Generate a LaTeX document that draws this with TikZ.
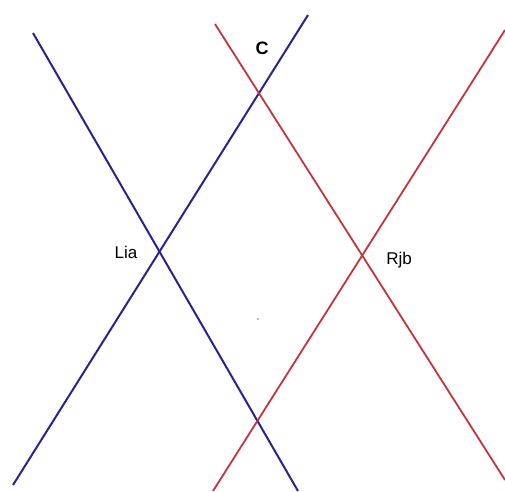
\documentclass[tikz,border=0pt]{standalone}
\usepackage{fontspec}
\setmainfont{Liberation Sans}
\definecolor{lineblue}{RGB}{40,36,140}
\definecolor{linered}{RGB}{196,52,62}
\begin{document}
\begin{tikzpicture}[x=1pt,y=-1pt,
  blueline/.style={draw=lineblue,line width=2pt},
  redline/.style={draw=linered,line width=1.8pt},
  lbl/.style={inner sep=0pt,font=\fontsize{17}{19}\selectfont}]
\useasboundingbox[fill=white] (0,0) rectangle (505,491);
% end points
\coordinate (b1s) at (33,33);
\coordinate (b1e) at (298,491);
\coordinate (b2s) at (308,15);
\coordinate (b2e) at (13,485);
\coordinate (r1s) at (215,24);
\coordinate (r1e) at (505,480);
\coordinate (r2s) at (505,30);
\coordinate (r2e) at (213,491);
\draw[blueline] (b1s) -- (b1e);
\draw[blueline] (b2s) -- (b2e);
\draw[redline] (r1s) -- (r1e);
\draw[redline] (r2s) -- (r2e);
% labels
\node[lbl,font=\fontsize{18}{20}\selectfont\bfseries] (c) at (262,48) {C};
\node[lbl] (lia) at (126,252) {Lia};
\node[lbl] (rjb) at (399,260) {Rjb};
\fill[gray] (258,319) circle (0.8);
\end{tikzpicture}
\end{document}
